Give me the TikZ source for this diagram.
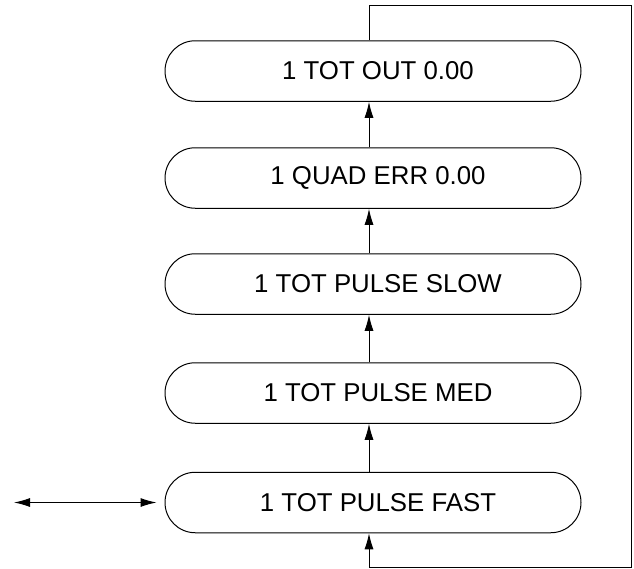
\documentclass[tikz,border=0pt]{standalone}
\usepackage{fontspec}
\setmainfont{Liberation Sans}
\usetikzlibrary{positioning,shapes.misc,arrows.meta}

\begin{document}
\begin{tikzpicture}[x=1pt,y=1pt,
  menu/.style={draw,rounded rectangle,minimum width=416pt,minimum height=60.5pt,
    inner sep=0pt,line width=1pt,font=\fontsize{25.8}{30}\selectfont,
    execute at begin node=\hspace*{10pt}},
  tip/.style={-{Latex[length=16pt,width=9pt]},line width=1pt}]
  \useasboundingbox (0,0) rectangle (634,-568);
  \node[menu] (out)  at (373,-71)  {1 TOT OUT 0.00};
  \node[menu] (quad) at (373,-178) {1 QUAD ERR 0.00};
  \node[menu] (slow) at (373,-284) {1 TOT PULSE SLOW};
  \node[menu] (med)  at (373,-393) {1 TOT PULSE MED};
  \node[menu] (fast) at (373,-502.5) {1 TOT PULSE FAST};
  \coordinate (ne) at (631,-5);
  \coordinate (se) at (631,-567);
  \coordinate (ext) at (14,-502.5);
  % step through the menu
  \draw[tip] ([xshift=-4pt]fast.north) -- ([xshift=-4pt]med.south);
  \draw[tip] ([xshift=-4pt]med.north)  -- ([xshift=-4pt]slow.south);
  \draw[tip] ([xshift=-4pt]slow.north) -- ([xshift=-4pt]quad.south);
  \draw[tip] ([xshift=-4pt]quad.north) -- ([xshift=-4pt]out.south);
  % back to the start
  \draw[tip] ([xshift=-4pt]out.north) |- (ne) -- (se) -| ([xshift=-4pt]fast.south);
  \draw[tip,{Latex[length=16pt,width=9pt]}-{Latex[length=16pt,width=9pt]}]
    (ext) -- ([xshift=-8pt]fast.west);
\end{tikzpicture}
\end{document}
